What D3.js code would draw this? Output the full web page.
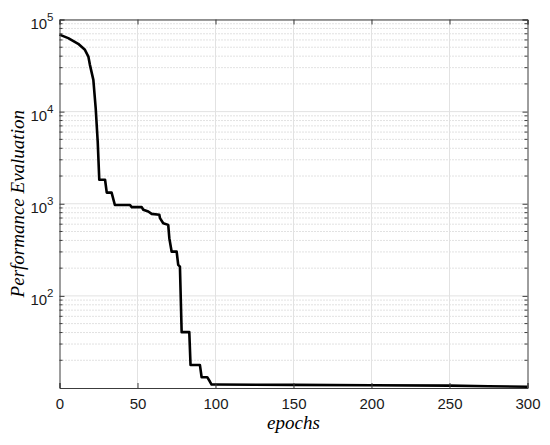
<!DOCTYPE html>
<html>
<head>
<meta charset="utf-8">
<script src="https://cdn.jsdelivr.net/npm/d3@7"></script>
<style>
  body { margin: 0; background: #fff; }
</style>
</head>
<body>
<div id="chart"></div>
<script>
const w = 550;
const h = 445;
const margin = {left: 59.5, right: 22.5, top: 19.5, bottom: 57};

// data
const epochs = [0, 5.6, 12, 16.3, 18.5, 19.5, 21.7, 23.2, 24.5, 25.5, 29.2, 30.3, 33.4, 35.5, 45.2, 46.3, 52.7, 53.7, 56.9, 59.1, 64, 64.4, 66.5, 69.7, 70.4, 71.9, 75.1, 76.1, 77.2, 78.3, 83.2, 84, 90, 91.1, 94.7, 96.4, 97.5, 100, 150, 200, 250, 275, 300];
const perf = [68500, 62800, 54500, 46900, 39600, 32200, 22100, 10900, 4700, 1820, 1820, 1320, 1320, 970, 970, 918, 918, 860, 823, 776, 759, 698, 615, 590, 423, 302, 302, 217, 208, 40.4, 40.4, 17.8, 17.8, 13.1, 13.1, 11.75, 10.9, 10.9, 10.8, 10.7, 10.6, 10.45, 10.3];
const xTicks = [0, 50, 100, 150, 200, 250, 300];
const yTicks = [1e2, 1e3, 1e4, 1e5];

const data = epochs.map((e, i) => ({e: e, v: perf[i]}));
const sans = "'Liberation Sans', Arial, sans-serif";
const serif = "'Liberation Serif', 'Times New Roman', 'DejaVu Serif', serif";

var svg = d3.select("#chart")
            .append("svg")
            .attr("width", w)
            .attr("height", h);

var x = d3.scaleLinear()
          .domain([0, 300])
          .range([margin.left, w - margin.right]);

var y = d3.scaleLog()
          .domain([10, 1e5])
          .range([h - margin.bottom, margin.top]);

// minor values for the log grid
var minor = [];
[10, 100, 1000, 10000].forEach(function(d) {
  for (var k = 2; k <= 9; k++) minor.push(d * k);
});

// grid
svg.append("g")
   .selectAll("line")
   .data(minor)
   .enter()
   .append("line")
   .attr("x1", x(0)).attr("x2", x(300))
   .attr("y1", d => y(d)).attr("y2", d => y(d))
   .attr("stroke", "#c4c4c4")
   .attr("stroke-width", 1)
   .attr("stroke-dasharray", "1,2");

svg.append("g")
   .selectAll("line")
   .data(yTicks)
   .enter()
   .append("line")
   .attr("x1", x(0)).attr("x2", x(300))
   .attr("y1", d => y(d)).attr("y2", d => y(d))
   .attr("stroke", "#e2e2e2");

svg.append("g")
   .selectAll("line")
   .data(xTicks.slice(1, -1))
   .enter()
   .append("line")
   .attr("x1", d => x(d)).attr("x2", d => x(d))
   .attr("y1", y(10)).attr("y2", y(1e5))
   .attr("stroke", "#e2e2e2");

// curve
var line = d3.line()
             .x(d => x(d.e))
             .y(d => y(d.v));

svg.append("path")
   .datum(data)
   .attr("d", line)
   .attr("fill", "none")
   .attr("stroke", "#000")
   .attr("stroke-width", 2.6)
   .attr("stroke-linejoin", "round");

// axes, ticks pointing inward
var gx = svg.append("g")
   .attr("transform", "translate(0," + y(10) + ")")
   .call(d3.axisBottom(x).tickValues(xTicks).tickSize(-5).tickPadding(10));

svg.append("g")
   .attr("transform", "translate(0," + y(1e5) + ")")
   .call(d3.axisTop(x).tickValues(xTicks).tickSize(-5).tickFormat(""));

var gy = svg.append("g")
            .attr("transform", "translate(" + x(0) + ",0)")
            .call(d3.axisLeft(y).tickValues(yTicks).tickSize(-5).tickPadding(6));

gy.selectAll(".tick text")
  .text("")
  .attr("dy", "0.6em")
  .each(function(d) {
    var t = d3.select(this);
    t.append("tspan").text("10");
    t.append("tspan")
     .attr("class", "exp")
     .attr("dy", "-0.7em")
     .text(Math.round(Math.log10(d)));
  });

svg.append("g")
   .attr("transform", "translate(" + x(300) + ",0)")
   .call(d3.axisRight(y).tickValues(yTicks).tickSize(-5).tickFormat(""));

svg.selectAll(".tick text")
   .style("font-family", sans)
   .style("font-size", "15px")
   .style("fill", "#1a1a1a");
gy.selectAll(".exp").style("font-size", "11.5px");

svg.selectAll(".domain, .tick line").attr("stroke", "#3c3c3c");

// minor ticks on both sides
[x(0), x(300)].forEach(function(px, i) {
  svg.append("g")
     .selectAll("line")
     .data(minor)
     .enter()
     .append("line")
     .attr("x1", px).attr("x2", i === 0 ? px + 3 : px - 3)
     .attr("y1", d => y(d)).attr("y2", d => y(d))
     .attr("stroke", "#3c3c3c");
});

// labels
svg.append("text")
   .attr("x", (x(0) + x(300)) / 2)
   .attr("y", 429)
   .attr("text-anchor", "middle")
   .style("font-family", serif)
   .style("font-style", "italic")
   .style("font-size", "19px")
   .text("epochs");

svg.append("text")
   .attr("transform", "translate(24," + ((y(10) + y(1e5)) / 2) + ") rotate(-90)")
   .attr("text-anchor", "middle")
   .style("font-family", serif)
   .style("font-style", "italic")
   .style("font-size", "19px")
   .text("Performance Evaluation");
</script>
</body>
</html>
